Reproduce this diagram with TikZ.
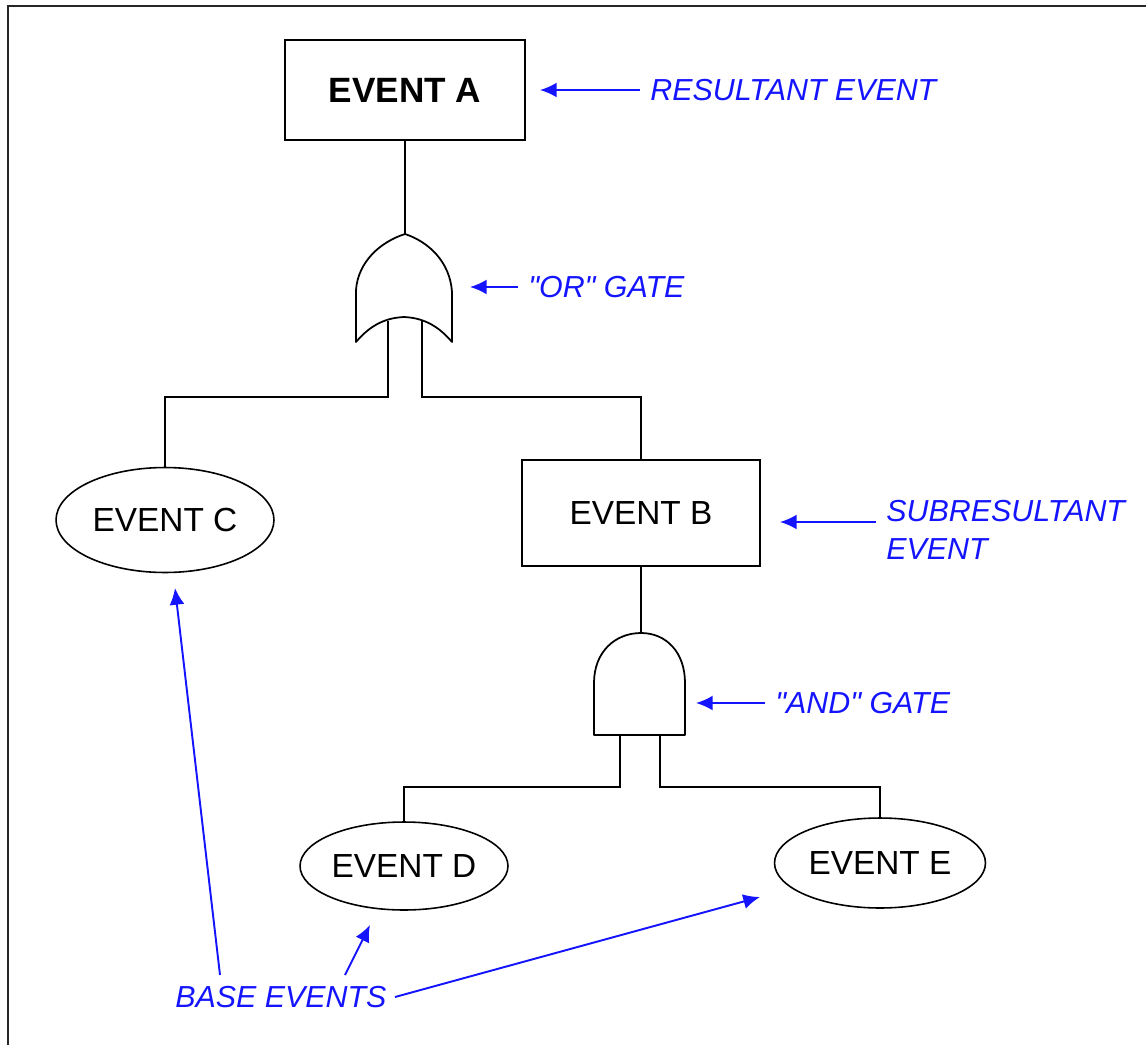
\documentclass[tikz,border=0pt]{standalone}
\usepackage{fontspec}
\setmainfont{Liberation Sans}[Ligatures=TeXOff]
\usetikzlibrary{shapes.geometric,arrows.meta}
\definecolor{lblblue}{RGB}{20,20,255}
\begin{document}
\begin{tikzpicture}[x=0.02cm,y=-0.02cm,
  wire/.style={line width=1pt,black},
  evbox/.style={draw,line width=0.9pt,rectangle,inner sep=0pt,font=\fontsize{19}{22}\selectfont},
  evell/.style={draw,line width=0.9pt,ellipse,inner sep=0pt,font=\fontsize{19}{22}\selectfont},
  lbl/.style={text=lblblue,font=\fontsize{17.3}{22}\selectfont\itshape,inner sep=0pt,anchor=west,align=left},
  arr/.style={draw=lblblue,line width=1.1pt,-{Latex[length=9.5pt,width=8.5pt]}}
]
\useasboundingbox (0,0) rectangle (1146,1045);
% frame
\draw[line width=1pt,black!85] (8,1045) -- (8,6) -- (1146,6);

% events
\node[evbox,minimum width=4.8cm,minimum height=2cm,font=\fontsize{20}{24}\selectfont\bfseries] (A) at (405,90) {EVENT A};
\node[evbox,minimum width=4.76cm,minimum height=2.12cm] (B) at (641,513) {EVENT B};
\node[evell,minimum width=4.36cm,minimum height=2.1cm] (C) at (165,520) {EVENT C};
\node[evell,minimum width=4.16cm,minimum height=1.76cm] (D) at (404,866) {EVENT D};
\node[evell,minimum width=4.22cm,minimum height=1.8cm] (E) at (880,863) {EVENT E};

% OR gate
\coordinate (ortop) at (405,234);
\coordinate (orinL) at (388,321);
\coordinate (orinR) at (422,320);
\draw[wire,line join=round] (356,342) -- (356,290) .. controls (358,262) and (380,242) .. (ortop)
  .. controls (429,242) and (450,262) .. (452,292) -- (452,342)
  .. controls (440,328) and (426,318) .. (404,317)
  .. controls (382,318) and (368,328) .. (356,342) -- cycle;
\draw[wire] (A.south) -- (ortop);
\draw[wire] (orinL) -- (388,397) -| (C.north);
\draw[wire] (orinR) -- (422,397) -| (B.north);

% AND gate
\coordinate (andtop) at (641,633);
\coordinate (andinL) at (620,735);
\coordinate (andinR) at (660,735);
\draw[wire,line join=round] (594,735) -- (594,683) .. controls (594,652) and (615,633) .. (andtop)
  .. controls (666,633) and (685,652) .. (685,683) -- (685,735) -- cycle;
\draw[wire] (B.south) -- (andtop);
\draw[wire] (andinL) -- (620,787) -| (D.north);
\draw[wire] (andinR) -- (660,787) -| (E.north);

% labels
\node[lbl] (lres) at (650,90) {RESULTANT EVENT};
\node[lbl] (lor) at (528,287) {"OR" GATE};
\node[lbl,text width=6cm,font=\fontsize{17.3}{21.5}\selectfont\itshape] (lsub) at (886,530) {SUBRESULTANT\\EVENT};
\node[lbl] (land) at (775,703) {"AND" GATE};
\node[lbl] (lbase) at (175,997) {BASE EVENTS};

% arrow tips / tails
\coordinate (tres) at (540,90);
\coordinate (tor) at (470,287);
\coordinate (tsub) at (780,522);
\coordinate (tand) at (696,703);
\coordinate (tC) at (175,588);
\coordinate (tD) at (370,925);
\coordinate (tE) at (760,897);
\coordinate (sC) at (220,975);
\coordinate (sD) at (345,975);
\coordinate (sE) at (395,997);
\coordinate (ssub) at (876,522);

\draw[arr] ([xshift=-0.2cm]lres.west) -- (tres);
\draw[arr] ([xshift=-0.2cm]lor.west) -- (tor);
\draw[arr] (ssub) -- (tsub);
\draw[arr] ([xshift=-0.2cm]land.west) -- (tand);
\draw[arr] (sC) -- (tC);
\draw[arr] (sD) -- (tD);
\draw[arr] (sE) -- (tE);
\end{tikzpicture}
\end{document}
